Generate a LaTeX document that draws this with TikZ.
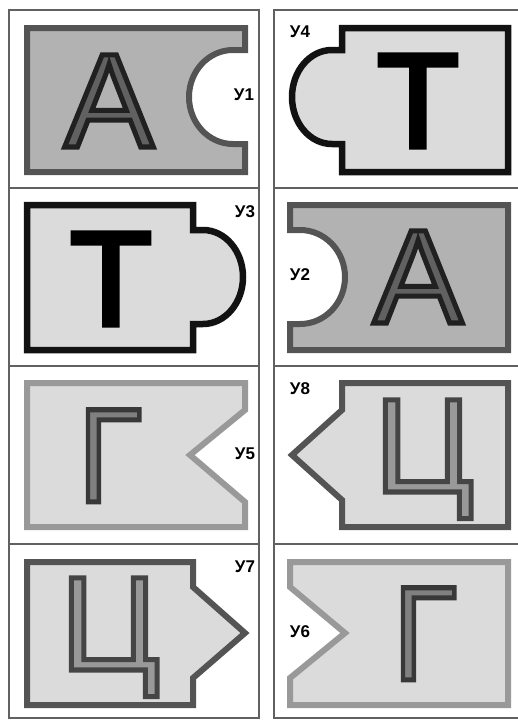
\documentclass[tikz,border=0pt]{standalone}
\usepackage{fontspec}
\setmainfont{Liberation Sans}
\definecolor{tiledark}{gray}{0.70}
\definecolor{tilelight}{gray}{0.86}
\definecolor{edgedark}{gray}{0.33}
\definecolor{edgelight}{gray}{0.60}
\definecolor{edgeblack}{gray}{0.07}
\definecolor{gridline}{gray}{0.38}
% glyph filled in the text colour, stroked in gray #2 with width #1
\newcommand\rimmed[3]{\special{pdf:literal direct 2 Tr 0 j #1 w #2 G}#3\special{pdf:literal direct 0 Tr}}

\begin{document}
\begin{tikzpicture}[x=1pt,y=-1pt,
		cell/.style={draw=gridline, line width=1.4pt},
		tileA/.style={fill=tiledark, draw=edgedark, line width=6pt},
		tileT/.style={fill=tilelight, draw=edgeblack, line width=6.5pt},
		tileG/.style={fill=tilelight, draw=edgelight, line width=6pt},
		tileC/.style={fill=tilelight, draw=edgedark, line width=6pt},
		letter/.style={inner sep=0pt, anchor=base,
				font=\fontsize{134}{134}\selectfont},
		tag/.style={inner sep=0pt, font=\fontsize{17}{17}\selectfont\bfseries}
	]
	\useasboundingbox (0,0) rectangle (518,720);

	\foreach \a/\b in {10/188,188/366,366/544,544/718} {
		\draw[cell] (9,\a) rectangle (259,\b);
		\draw[cell] (518,\a) -- (274,\a) -- (274,\b) -- (518,\b);
	}

	\draw[tileA] (27,28) -- (245,28) -- (245,50) -- (233,50)
		arc[start angle=-90, end angle=-270, x radius=44, y radius=47]
		-- (245,144) -- (245,172) -- (27,172) -- cycle;
	\draw[tileT] (342,28) -- (508,28) -- (508,172) -- (342,172) -- (342,144) -- (332,144)
		arc[start angle=90, end angle=270, x radius=40, y radius=47]
		-- (342,50) -- cycle;
	\draw[tileT] (27,205) -- (193,205) -- (193,230) -- (203,230)
		arc[start angle=-90, end angle=90, x radius=40, y radius=47]
		-- (193,324) -- (193,350) -- (27,350) -- cycle;
	\draw[tileA] (290,205) -- (508,205) -- (508,350) -- (290,350) -- (290,324) -- (300,324)
		arc[start angle=90, end angle=-90, x radius=45, y radius=47]
		-- (290,230) -- cycle;
	\draw[tileG] (27,383) -- (245,383) -- (245,410) -- (190,455) -- (245,502)
		-- (245,527) -- (27,527) -- cycle;
	\draw[tileC] (342,383) -- (508,383) -- (508,527) -- (342,527) -- (342,500)
		-- (292,455) -- (342,410) -- cycle;
	\draw[tileC] (27,562) -- (193,562) -- (193,587) -- (245,633) -- (193,678)
		-- (193,705) -- (27,705) -- cycle;
	\draw[tileG] (290,562) -- (508,562) -- (508,705) -- (290,705) -- (290,678)
		-- (345,633) -- (290,587) -- cycle;

	\node[letter, text=black!62] (a1) at (109,147) {\rimmed{5}{0.13}{А}};
	\node[letter, text=black] (t4) at (418,147) {\rimmed{5}{0}{Т}};
	\node[letter, text=black] (t3) at (111,325) {\rimmed{5}{0}{Т}};
	\node[letter, text=black!62] (a2) at (418,323) {\rimmed{5}{0.13}{А}};
	\node[letter, text=black!50] (g5) at (110,502) {\scalebox{0.87}[1]{\rimmed{5}{0.22}{Г}}};
	\node[letter, text=black!40] (c8) at (424,492) {\rimmed{5}{0.27}{Ц}};
	\node[letter, text=black!40] (c7) at (110,670) {\rimmed{5}{0.27}{Ц}};
	\node[letter, text=black!50] (g6) at (425,680) {\scalebox{0.87}[1]{\rimmed{5}{0.22}{Г}}};

	\node[tag] (y1) at (244,95) {У1};
	\node[tag] (y4) at (300,32) {У4};
	\node[tag] (y3) at (245,212) {У3};
	\node[tag] (y2) at (300,275) {У2};
	\node[tag] (y5) at (245,454) {У5};
	\node[tag] (y8) at (300,389) {У8};
	\node[tag] (y7) at (245,567) {У7};
	\node[tag] (y6) at (300,632) {У6};
\end{tikzpicture}
\end{document}
